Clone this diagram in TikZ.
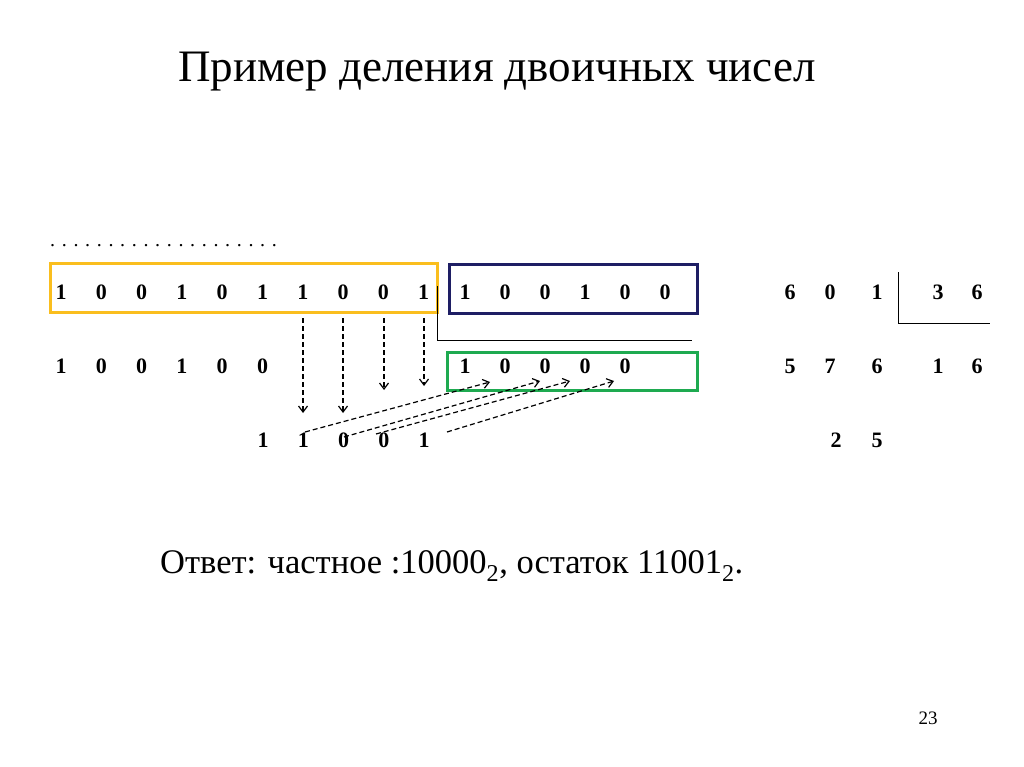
\documentclass[tikz,border=0pt]{standalone}
\usepackage{fontspec}
\setmainfont{Liberation Serif}
\usetikzlibrary{arrows.meta}
\begin{document}
\begin{tikzpicture}[x=1pt,y=-1pt,
  dg/.style={font=\fontsize{22}{22}\selectfont\bfseries, inner sep=0pt},
  da/.style={line width=1.2pt, dash pattern=on 5pt off 3pt, -{Straight Barb[length=6pt,width=9pt]}}]
\useasboundingbox (0,0) rectangle (1024,767);
\node[font=\fontsize{45}{48}\selectfont] (title) at (497,72) {Пример деления двоичных чисел};
\node[anchor=west,inner sep=0pt] (dots) at (50,246) {\fontsize{20}{20}\selectfont . . . . . . . . . . . . . . . . . . . .};
\foreach \d [count=\i] in {1,0,0,1,0,1,1,0,0,1}
  \node[dg] (a\i) at ({61+40.3*(\i-1)},292) {\d};
\foreach \d [count=\i] in {1,0,0,1,0,0}
  \node[dg] (b\i) at ({465+40*(\i-1)},292) {\d};
\foreach \d [count=\i] in {1,0,0,1,0,0}
  \node[dg] (c\i) at ({61+40.3*(\i-1)},366) {\d};
\foreach \d [count=\i] in {1,0,0,0,0}
  \node[dg] (q\i) at ({465+40*(\i-1)},366) {\d};
\foreach \d [count=\i] in {1,1,0,0,1}
  \node[dg] (r\i) at ({263+40.3*(\i-1)},440) {\d};
\draw[draw={rgb,255:red,250;green,190;blue,30}, line width=3pt] (50,263) rectangle (437,312);
\draw[draw={rgb,255:red,30;green,30;blue,100}, line width=3pt] (449,264) rectangle (697,313);
\draw[draw={rgb,255:red,30;green,170;blue,80}, line width=3pt] (447,352) rectangle (697,390);
\draw[line width=1pt] (437,286) -- (437,340) -- (692,340);
\coordinate (d1) at (303,413); \coordinate (d2) at (343,413);
\coordinate (d3) at (384,390); \coordinate (d4) at (424,386);
\draw[da] (303,318) -- (d1);
\draw[da] (343,318) -- (d2);
\draw[da] (384,318) -- (d3);
\draw[da] (424,318) -- (d4);
\coordinate (e1) at (490,382); \coordinate (e2) at (540,381);
\coordinate (e3) at (570,381); \coordinate (e4) at (614,381);
\draw[da] (305,432) -- (e1);
\draw[da] (344,437) -- (e2);
\draw[da] (376,434) -- (e3);
\draw[da] (447,432) -- (e4);
\foreach \d/\x/\y [count=\i] in {6/790/292,0/830/292,1/877/292,3/938/292,6/977/292,5/790/366,7/830/366,6/877/366,1/938/366,6/977/366,2/836/440,5/877/440}
  \node[dg] (k\i) at (\x,\y) {\d};
\draw[line width=1pt] (898,272) -- (898,323) -- (990,323);
\node[anchor=west,font=\fontsize{34.5}{36}\selectfont,inner sep=0pt] (ans) at (160,566) {Ответ: частное :10000\textsubscript{2}, остаток 11001\textsubscript{2}.};
\node[font=\fontsize{19}{19}\selectfont] (pg) at (928,718) {23};
\end{tikzpicture}
\end{document}
